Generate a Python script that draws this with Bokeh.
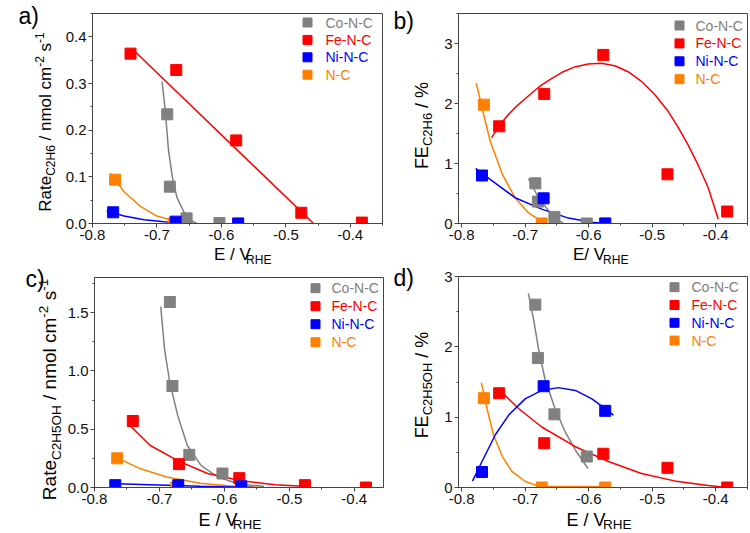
import numpy as np
from bokeh.plotting import figure
from bokeh.models import Range1d, FixedTicker, PrintfTickFormatter, Label
from bokeh.layouts import row, column
from bokeh.embed import file_html
from bokeh.resources import INLINE

FONT = "Liberation Sans"
MID = 0.35  # em-box middle above the baseline
names = ["Co-N-C", "Fe-N-C", "Ni-N-C", "N-C"]
colors = ["#808080", "#ff0000", "#0000ff", "#ff8000"]

# potentials (V vs RHE)
co_x = [-0.684, -0.680, -0.654, -0.603]
fe_x = [-0.741, -0.670, -0.577, -0.476, -0.382]
ni_x = [-0.768, -0.671, -0.574]
nc_x = [-0.765, -0.674, -0.574]

# a) rate C2H6
a_co = [0.234, 0.079, 0.011, 0.001]
a_fe = [0.364, 0.329, 0.178, 0.023, 0.002]
a_ni = [0.024, 0.004, 0.0]
a_nc = [0.094, 0.0, 0.0]
a_co_fx = [-0.692, -0.687, -0.682, -0.676, -0.669, -0.658, -0.648, -0.638]
a_co_fy = [0.304, 0.241, 0.156, 0.099, 0.056, 0.024, 0.007, 0.0]
a_fe_fx = [-0.739, -0.457]
a_fe_fy = [0.375, 0.0]
a_ni_fx = [-0.778, -0.751, -0.720, -0.689, -0.668]
a_ni_fy = [0.027, 0.016, 0.008, 0.004, 0.002]
a_nc_fx = [-0.772, -0.751, -0.725, -0.700, -0.674, -0.653]
a_nc_fy = [0.107, 0.068, 0.036, 0.016, 0.006, 0.001]

# b) FE C2H6
b_co = [0.67, 0.365, 0.11, 0.0]
b_fe = [1.62, 2.16, 2.81, 0.82, 0.20]
b_ni = [0.80, 0.42, 0.0]
b_nc = [1.98, 0.0, 0.0]
b_co_fx = [-0.695, -0.679, -0.663, -0.650, -0.640]
b_co_fy = [0.75, 0.43, 0.21, 0.07, 0.0]
b_fe_fx = [-0.753, -0.740, -0.726, -0.713, -0.700, -0.687, -0.674, -0.658, -0.642, -0.622, -0.601,
           -0.580, -0.559, -0.538, -0.517, -0.496, -0.475, -0.460, -0.444, -0.428, -0.412, -0.396]
b_fe_fy = [1.43, 1.64, 1.82, 1.96, 2.08, 2.20, 2.31, 2.42, 2.52, 2.61, 2.66,
           2.67, 2.63, 2.53, 2.37, 2.15, 1.87, 1.62, 1.32, 0.98, 0.60, 0.07]
b_ni_fx = [-0.778, -0.752, -0.716, -0.674, -0.632, -0.595, -0.574]
b_ni_fy = [0.92, 0.71, 0.43, 0.24, 0.09, 0.02, 0.0]
b_nc_fx = [-0.777, -0.768, -0.755, -0.736, -0.716, -0.695, -0.674]
b_nc_fy = [2.34, 1.93, 1.37, 0.82, 0.43, 0.18, 0.03]

# c) rate C2H5OH
c_co = [1.59, 0.87, 0.28, 0.12]
c_fe = [0.57, 0.20, 0.08, 0.02, 0.0]
c_ni = [0.02, 0.02, 0.01]
c_nc = [0.25, 0.0, 0.0]
c_co_fx = [-0.698, -0.692, -0.684, -0.672, -0.657, -0.636, -0.610, -0.586, -0.560, -0.539]
c_co_fy = [1.55, 1.18, 0.90, 0.62, 0.36, 0.19, 0.09, 0.045, 0.02, 0.01]
c_fe_fx = [-0.749, -0.714, -0.672, -0.626, -0.574, -0.522, -0.471]
c_fe_fy = [0.55, 0.36, 0.23, 0.12, 0.057, 0.023, 0.008]
c_ni_fx = [-0.776, -0.715, -0.637, -0.555]
c_ni_fy = [0.034, 0.023, 0.011, 0.0]
c_nc_fx = [-0.768, -0.729, -0.689, -0.637, -0.585, -0.539]
c_nc_fy = [0.26, 0.16, 0.09, 0.037, 0.011, 0.0]

# d) FE C2H5OH
d_co = [2.60, 1.84, 1.04, 0.44]
d_fe = [1.34, 0.63, 0.48, 0.28, 0.0]
d_ni = [0.22, 1.44, 1.09]
d_nc = [1.27, 0.0, 0.0]
d_co_fx = [-0.695, -0.687, -0.679, -0.669, -0.653, -0.637, -0.621, -0.601]
d_co_fy = [2.76, 2.40, 1.97, 1.55, 1.12, 0.79, 0.53, 0.27]
d_fe_fx = [-0.743, -0.710, -0.674, -0.621, -0.569, -0.517, -0.465, -0.412, -0.383]
d_fe_fy = [1.41, 1.12, 0.86, 0.58, 0.37, 0.20, 0.094, 0.028, 0.0]
d_ni_fx = [-0.783, -0.768, -0.747, -0.726, -0.700, -0.674, -0.648, -0.621, -0.595, -0.574, -0.561]
d_ni_fy = [0.09, 0.37, 0.75, 1.03, 1.26, 1.38, 1.42, 1.38, 1.26, 1.12, 1.03]
d_nc_fx = [-0.769, -0.760, -0.750, -0.736, -0.721, -0.700, -0.679, -0.674, -0.574]
d_nc_fy = [1.49, 1.12, 0.75, 0.44, 0.23, 0.085, 0.02, 0.015, 0.015]

x_ticks = [-0.8, -0.7, -0.6, -0.5, -0.4]
x_minor = [-0.75, -0.65, -0.55, -0.45, -0.35]

# rough Arial/Liberation Sans advance widths (per 1000 em)
CW = {" ": 278, "/": 278, "-": 333, ".": 278, "%": 889, ")": 333,
      "C": 722, "E": 667, "F": 611, "H": 722, "N": 722, "O": 778, "R": 722, "V": 667,
      "a": 556, "c": 500, "e": 556, "l": 222, "m": 833, "n": 556, "o": 556, "s": 500, "t": 278}


def tw(s, size):
    return sum(CW.get(ch, 556) for ch in s) * size / 1000.0


def seg_len(segs):
    return sum(tw(t, s) for t, s, _ in segs)


def text_fig(x0, y0, w, h):
    # blank canvas for texts that sit outside the plot frames; placed by page pixels
    p = figure(width=w, height=h, title=None, toolbar_location=None, output_backend="svg",
               x_range=Range1d(0, w), y_range=Range1d(0, h),
               x_axis_type=None, y_axis_type=None, min_border=0)
    p.outline_line_color = None
    p.grid.visible = False
    return p, (x0, y0 + h)


def put(p, org, ax, ay, text, size, angle=0.0, color="black"):
    p.add_layout(Label(x=ax - org[0], y=org[1] - ay, text=text, text_font=FONT,
                       text_font_size="%.1fpx" % size, text_color=color, angle=angle,
                       text_align="left", text_baseline="middle"))


def tag(p, org, ax, base, text, size=23):
    put(p, org, ax, base - MID * size, text, size)


def rich_h(p, org, segs, ax, base):
    adv = 0.0
    for text, size, shift in segs:
        put(p, org, ax + adv, base - shift - MID * size, text, size)
        adv += tw(text, size)


def rich_v(p, org, segs, base, cy):
    start = cy + seg_len(segs) / 2
    adv = 0.0
    for text, size, shift in segs:
        t = text.lstrip()
        off = adv + tw(text[:len(text) - len(t)], size)
        put(p, org, base - shift - MID * size, start - off, t, size, angle=np.pi / 2)
        adv += tw(text, size)


def panel(w, h, bl, br, bt, bb, xr, yr, yt, ym, yfmt):
    p = figure(width=w, height=h, title=None, toolbar_location=None, output_backend="svg",
               x_range=Range1d(*xr), y_range=Range1d(*yr),
               min_border_left=bl, min_border_right=br, min_border_top=bt, min_border_bottom=bb)
    p.xgrid.visible = False
    p.ygrid.visible = False
    p.outline_line_color = "#444444"
    p.outline_line_alpha = 1.0
    p.xaxis.ticker = FixedTicker(ticks=x_ticks, minor_ticks=x_minor)
    p.yaxis.ticker = FixedTicker(ticks=yt, minor_ticks=ym)
    p.xaxis.formatter = PrintfTickFormatter(format="%.1f")
    p.yaxis.formatter = PrintfTickFormatter(format=yfmt)
    for ax in (p.xaxis[0], p.yaxis[0]):
        ax.major_tick_out = 4
        ax.major_tick_in = 0
        ax.minor_tick_out = 2
        ax.minor_tick_in = 0
        ax.axis_line_color = "#444444"
        ax.major_tick_line_color = "#444444"
        ax.minor_tick_line_color = "#444444"
        ax.major_label_text_font = FONT
        ax.major_label_text_font_size = "15px"
        ax.major_label_text_color = "#111111"
        ax.major_label_standoff = 2
    g = {"xr": xr, "yr": yr, "fw": w - bl - br, "fh": h - bt - bb}
    return p, g


def fx(g, px):
    return g["xr"][0] + px * (g["xr"][1] - g["xr"][0]) / g["fw"]


def fy(g, py):
    return g["yr"][0] + py * (g["yr"][1] - g["yr"][0]) / g["fh"]


def draw(p, series, fits):
    order = [3, 0, 1, 2]
    for i in order:
        p.line(fits[i][0], fits[i][1], line_color=colors[i], line_width=1.5)
    for i in order:
        p.scatter(series[i][0], series[i][1], marker="square", size=11,
                  fill_color=colors[i], line_color=colors[i])


def legend(p, g, sq_off, txt_off, top, step):
    for i, (n, c) in enumerate(zip(names, colors)):
        py = g["fh"] - top - i * step
        p.scatter([fx(g, g["fw"] - sq_off)], [fy(g, py)], marker="square", size=9,
                  fill_color=c, line_color=c)
        p.add_layout(Label(x=fx(g, g["fw"] - txt_off), y=fy(g, py), text=n, text_font=FONT,
                           text_font_size="14px", text_color=c, text_baseline="middle"))


# a)  frame 92..382 x 13..223
pa, ga = panel(334, 245, 34, 10, 13, 22, (-0.8, -0.35), (0.0, 0.45),
               [0.0, 0.1, 0.2, 0.3, 0.4], [0.05, 0.15, 0.25, 0.35, 0.45], "%.1f")
draw(pa, [(co_x, a_co), (fe_x, a_fe), (ni_x, a_ni), (nc_x, a_nc)],
     [(a_co_fx, a_co_fy), (a_fe_fx, a_fe_fy), (a_ni_fx, a_ni_fy), (a_nc_fx, a_nc_fy)])
legend(pa, ga, 75, 57, 9, 17.4)
ya_fig, ya_o = text_fig(0, 0, 58, 266)
tag(ya_fig, ya_o, 18, 24, "a)")
rich_v(ya_fig, ya_o, [("Rate", 17, 0), ("C2H6", 12, -4), (" / nmol cm", 17, 0),
                      ("-2", 12, 7.5), (" s", 17, 0), ("-1", 12, 7.5)], 51, 121.5)
xa_fig, xa_o = text_fig(58, 245, 334, 21)
rich_h(xa_fig, xa_o, [("E / V", 17, 0), ("RHE", 12, -2.8)], 198, 260.4)

# b)  frame 458..747 x 13..223
pb, gb = panel(308, 245, 18, 1, 13, 22, (-0.805, -0.35), (0.0, 3.5),
               [0, 1, 2, 3], [0.5, 1.5, 2.5, 3.5], "%d")
draw(pb, [(co_x, b_co), (fe_x, b_fe), (ni_x, b_ni), (nc_x, b_nc)],
     [(b_co_fx, b_co_fy), (b_fe_fx, b_fe_fy), (b_ni_fx, b_ni_fy), (b_nc_fx, b_nc_fy)])
legend(pb, gb, 68, 52, 12, 17.9)
yb_fig, yb_o = text_fig(392, 0, 48, 266)
tag(yb_fig, yb_o, 393, 29, "b)")
rich_v(yb_fig, yb_o, [("FE", 18, 0), ("C2H6", 13, -4), (" / %", 18, 0)], 428, 125)
xb_fig, xb_o = text_fig(440, 245, 308, 21)
rich_h(xb_fig, xb_o, [("E/ V", 17, 0), ("RHE", 12, -2.8)], 562, 260.4)

# c)  frame 94..383 x 277..487
pc, gc = panel(328, 243, 30, 9, 11, 22, (-0.8, -0.355), (0.0, 1.8),
               [0.0, 0.5, 1.0, 1.5], [0.25, 0.75, 1.25, 1.75], "%.1f")
draw(pc, [(co_x, c_co), (fe_x, c_fe), (ni_x, c_ni), (nc_x, c_nc)],
     [(c_co_fx, c_co_fy), (c_fe_fx, c_fe_fy), (c_ni_fx, c_ni_fy), (c_nc_fx, c_nc_fy)])
legend(pc, gc, 68, 52, 10.7, 18)
yc_fig, yc_o = text_fig(0, 266, 64, 266)
tag(yc_fig, yc_o, 25, 287, "c)")
rich_v(yc_fig, yc_o, [("Rate", 19, 0), ("C2H5OH", 13.5, -4.5), (" / nmol cm", 19, 0),
                      ("-2", 13.5, 8), (" s", 19, 0), ("-1", 13.5, 8)], 56, 389)
xc_fig, xc_o = text_fig(64, 509, 328, 23)
rich_h(xc_fig, xc_o, [("E / V", 18, 0), ("RHE", 13.5, -3.5)], 182, 525.4)

# d)  frame 458..747 x 276..487
pd_, gd = panel(308, 243, 18, 1, 10, 22, (-0.805, -0.35), (0.0, 3.0),
                [0, 1, 2, 3], [0.5, 1.5, 2.5], "%d")
draw(pd_, [(co_x, d_co), (fe_x, d_fe), (ni_x, d_ni), (nc_x, d_nc)],
     [(d_co_fx, d_co_fy), (d_fe_fx, d_fe_fy), (d_ni_fx, d_ni_fy), (d_nc_fx, d_nc_fy)])
legend(pd_, gd, 73, 56, 10.7, 17.8)
yd_fig, yd_o = text_fig(392, 266, 48, 266)
tag(yd_fig, yd_o, 393, 286, "d)")
rich_v(yd_fig, yd_o, [("FE", 18, 0), ("C2H5OH", 13, -4), (" / %", 18, 0)], 428, 384.5)
xd_fig, xd_o = text_fig(440, 509, 308, 23)
rich_h(xd_fig, xd_o, [("E / V", 18, 0), ("RHE", 13.5, -3.5)], 555, 525.4)

layout = column(
    row(ya_fig, column(pa, xa_fig), yb_fig, column(pb, xb_fig)),
    row(yc_fig, column(pc, xc_fig), yd_fig, column(pd_, xd_fig)),
)
open("out.html", "w").write(file_html(layout, INLINE))
